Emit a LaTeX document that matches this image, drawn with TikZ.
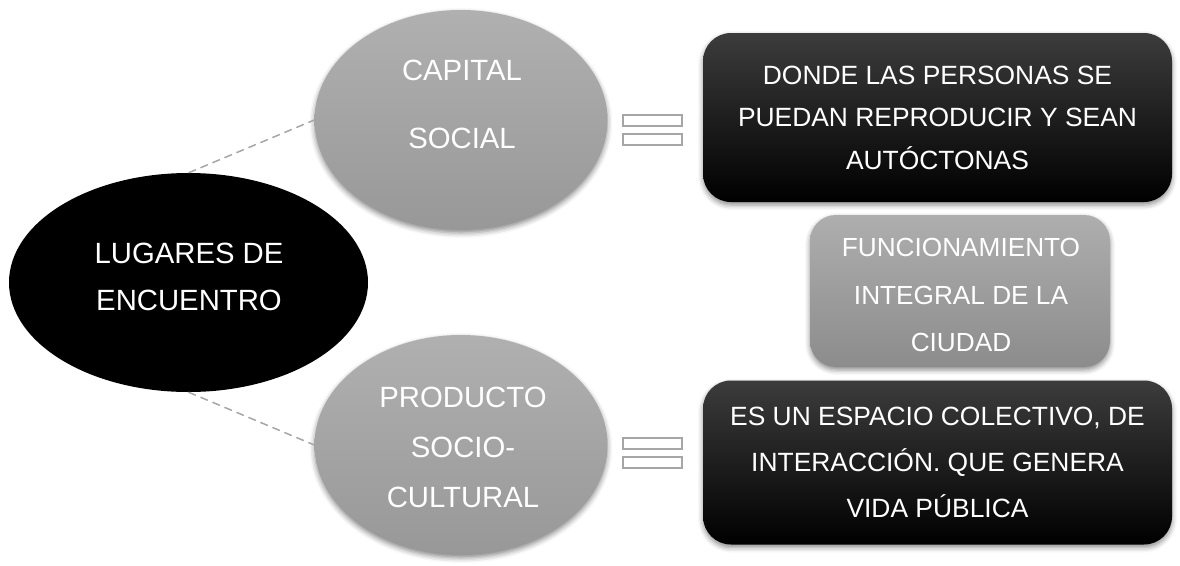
\documentclass[tikz,border=0pt]{standalone}
\usepackage{fontspec}
\setmainfont{Liberation Sans}
\usetikzlibrary{shapes.geometric,shadows.blur}
\definecolor{ellTop}{HTML}{B0B0B0}
\definecolor{ellBot}{HTML}{989898}
\definecolor{boxTop}{HTML}{AEAEAE}
\definecolor{boxBot}{HTML}{8C8C8C}
\definecolor{blkTop}{HTML}{3C3C3C}
\definecolor{lineGray}{HTML}{A6A6A6}
\tikzset{
  softshadow/.style={blur shadow={shadow xshift=0pt, shadow yshift=-3pt, shadow blur radius=5pt, shadow opacity=45}},
  bigell/.style={ellipse, fill=black, draw=none, inner sep=0pt},
  grayell/.style={ellipse, top color=ellTop, bottom color=ellBot, draw=none, inner sep=0pt, softshadow},
  blackbox/.style={rectangle, rounded corners=28pt, top color=blkTop, middle color=black, bottom color=black, draw=none, inner sep=0pt, softshadow, text=white, align=center},
  graybox/.style={rectangle, rounded corners=26pt, top color=boxTop, bottom color=boxBot, draw=none, inner sep=0pt, softshadow},
  wtxt/.style={text=white, align=center, inner sep=0pt},
  eqbar/.style={rectangle, draw=lineGray, line width=2pt, fill=white, minimum width=59pt, minimum height=11pt, inner sep=0pt},
  dashconn/.style={draw=lineGray, line width=1.5pt, dash pattern=on 8pt off 5pt}
}
\begin{document}
\begin{tikzpicture}[x=1pt, y=-1pt]
\useasboundingbox (0,0) rectangle (1180,565);
% shapes
\node[bigell, minimum width=359pt, minimum height=219pt] (big) at (188.5,282.5) {};
\node[grayell, minimum width=293pt, minimum height=220pt] (cap) at (461,120) {};
\node[grayell, minimum width=293pt, minimum height=220pt] (prod) at (461,445) {};
% connectors
\draw[dashconn] (big.north) -- (cap.west);
\draw[dashconn] (big.south) -- (prod.west);
% texts in ellipses
\node[wtxt, font=\fontsize{29.3}{47}\selectfont] (bigtxt) at (189,276.5) {LUGARES DE\\ENCUENTRO};
\node[wtxt, font=\fontsize{29.3}{68}\selectfont] (captxt) at (462,104) {CAPITAL\\SOCIAL};
\node[wtxt, font=\fontsize{29.3}{50}\selectfont] (prodtxt) at (463,447) {PRODUCTO\\SOCIO-\\CULTURAL};
% equals signs
\node[eqbar] (eq1a) at (652.5,120) {};
\node[eqbar] (eq1b) at (652.5,139.5) {};
\node[eqbar] (eq2a) at (652.5,443.5) {};
\node[eqbar] (eq2b) at (652.5,462.5) {};
% boxes
\node[blackbox, minimum width=469pt, minimum height=169pt, font=\fontsize{26.4}{42.5}\selectfont] (box1) at (937.5,117.5) {DONDE LAS PERSONAS SE\\PUEDAN REPRODUCIR Y SEAN\\AUTÓCTONAS};
\node[graybox, minimum width=300pt, minimum height=152pt] (box2) at (960,291) {};
\node[wtxt, font=\fontsize{26.2}{47.5}\selectfont] (box2txt) at (961,295) {FUNCIONAMIENTO\\INTEGRAL DE LA\\CIUDAD};
\node[blackbox, minimum width=469pt, minimum height=164pt, font=\fontsize{26.4}{46}\selectfont] (box3) at (937.5,462.5) {ES UN ESPACIO COLECTIVO, DE\\INTERACCIÓN. QUE GENERA\\VIDA PÚBLICA};
\end{tikzpicture}
\end{document}
